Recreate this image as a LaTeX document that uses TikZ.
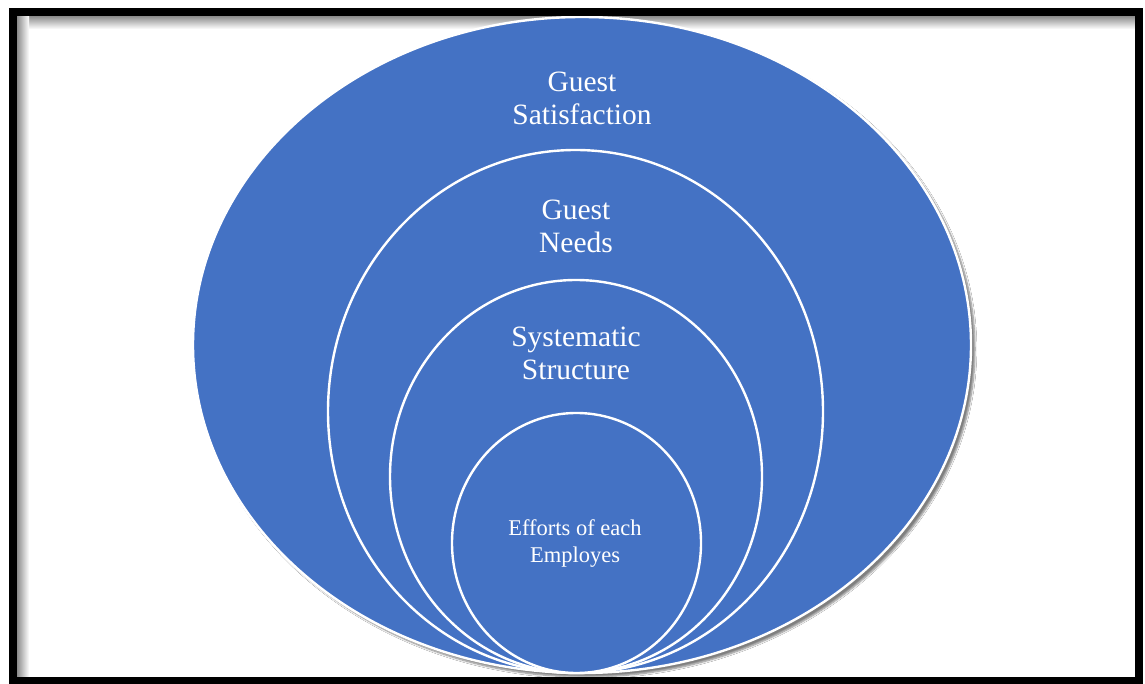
\documentclass[tikz,border=0pt]{standalone}
\usepackage{fontspec}
\setmainfont{Liberation Serif}
\usetikzlibrary{shapes.geometric,shadows.blur}
\definecolor{ringblue}{HTML}{4472C4}
\tikzset{
  ring/.style={ellipse, draw=white, line width=2.4pt, fill=ringblue, inner sep=0pt},
  outerring/.style={ring, blur shadow={shadow xshift=4pt, shadow yshift=-4pt, shadow opacity=50, shadow blur steps=6}},
  bigtext/.style={text=white, align=center, font=\fontsize{29.5}{33}\selectfont},
  smalltext/.style={text=white, align=center, font=\fontsize{22.5}{27}\selectfont},
}
\begin{document}
\begin{tikzpicture}[x=1pt, y=1pt]
\useasboundingbox (0,0) rectangle (1145,683);
\fill[white] (0,0) rectangle (1145,683);
% inner shadow along the top and left edges of the frame
\shade[top color=black!45, bottom color=white] (17,654) rectangle (1135,667);
\shade[left color=black!45, right color=white] (17,0) rectangle (29,667);
\fill[white] (29,0) rectangle (1135,654);
% concentric rings, largest first
\node[outerring, minimum width=778pt, minimum height=656pt] (sat) at (582,338) {};
\node[ring, minimum width=495pt, minimum height=523pt] (needs) at (575.5,271.5) {};
\node[ring, minimum width=372pt, minimum height=393pt] (struct) at (576,206.5) {};
\node[ring, minimum width=249pt, minimum height=260pt] (effort) at (576.5,140) {};
% ring labels
\node[bigtext] (tsat) at (582,585) {Guest\\Satisfaction};
\node[bigtext] (tneeds) at (576,456.5) {Guest\\Needs};
\node[bigtext] (tstruct) at (576,329.5) {Systematic\\Structure};
\node[smalltext] (teffort) at (575,139.5) {Efforts of each\\Employes};
% black frame
\draw[black, line width=8pt] (13,2) rectangle (1139,671);
\end{tikzpicture}
\end{document}
